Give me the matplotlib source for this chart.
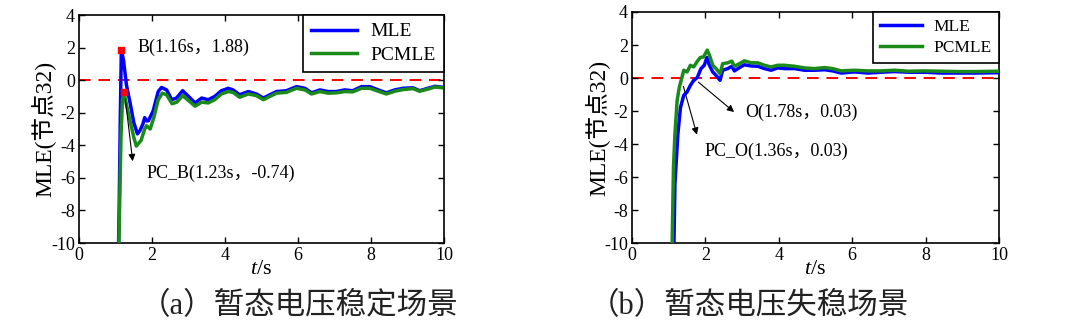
import matplotlib
matplotlib.use("Agg")
import matplotlib.pyplot as plt

# ---------------- data ----------------
# (a) transient voltage stable scenario
t_a_mle = [1.08, 1.10, 1.13, 1.16, 1.22, 1.30, 1.40, 1.50, 1.60, 1.67, 1.75, 1.80, 1.85, 1.90, 2.03, 2.17, 2.26,
           2.40, 2.54, 2.67, 2.84, 3.00, 3.18, 3.36, 3.54, 3.72, 3.90, 4.09, 4.22, 4.40, 4.64, 4.86,
           5.05, 5.23, 5.41, 5.68, 5.96, 6.19, 6.37, 6.60, 6.82, 7.05, 7.28, 7.50, 7.74, 7.97, 8.20,
           8.42, 8.65, 8.88, 9.15, 9.33, 9.56, 9.75, 9.93]
v_a_mle = [-10.5, -8.0, -2.5, 1.88, 1.2, -0.3, -1.4, -2.6, -3.3, -3.1, -2.7, -2.3, -2.5, -2.5, -1.9, -0.7, -0.45,
           -0.6, -1.2, -1.1, -0.65, -1.0, -1.4, -1.1, -1.2, -1.0, -0.65, -0.5, -0.6, -0.9, -0.7, -0.85,
           -1.1, -0.9, -0.7, -0.65, -0.4, -0.5, -0.78, -0.6, -0.7, -0.7, -0.6, -0.65, -0.4, -0.4, -0.6,
           -0.78, -0.6, -0.5, -0.47, -0.65, -0.5, -0.38, -0.43]
t_a_pc = [1.09, 1.11, 1.15, 1.19, 1.23, 1.30, 1.40, 1.50, 1.57, 1.70, 1.80, 1.85, 1.95, 2.05, 2.17, 2.28,
          2.40, 2.55, 2.68, 2.84, 3.00, 3.18, 3.36, 3.54, 3.72, 3.90, 4.09, 4.22, 4.40, 4.64, 4.86,
          5.05, 5.23, 5.41, 5.68, 5.96, 6.19, 6.37, 6.60, 6.82, 7.05, 7.28, 7.50, 7.74, 7.97, 8.20,
          8.42, 8.65, 8.88, 9.15, 9.33, 9.56, 9.75, 9.93]
v_a_pc = [-10.5, -8.0, -3.5, -1.2, -0.74, -1.5, -2.5, -3.5, -4.05, -3.7, -3.0, -2.8, -3.0, -2.3, -1.2, -0.8,
          -0.9, -1.45, -1.35, -0.95, -1.25, -1.6, -1.35, -1.4, -1.2, -0.85, -0.7, -0.75, -1.05, -0.85, -0.95,
          -1.2, -1.0, -0.8, -0.75, -0.5, -0.6, -0.85, -0.7, -0.8, -0.78, -0.7, -0.72, -0.5, -0.5, -0.68,
          -0.85, -0.68, -0.58, -0.52, -0.68, -0.55, -0.42, -0.46]

# (b) transient voltage unstable scenario
t_b_mle = [1.14, 1.17, 1.25, 1.32, 1.41, 1.50, 1.59, 1.68, 1.78, 1.88, 1.97, 2.04, 2.11, 2.20, 2.29, 2.40,
           2.47, 2.61, 2.72, 2.79, 2.93, 3.06, 3.25, 3.43, 3.61, 3.79, 3.97, 4.15, 4.43, 4.70, 4.97,
           5.25, 5.47, 5.70, 6.06, 6.43, 6.79, 7.15, 7.52, 7.97, 8.43, 8.88, 9.34, 9.97]
v_b_mle = [-10.5, -6.4, -3.4, -1.8, -1.05, -0.85, -0.45, -0.15, 0.03, 0.57, 0.77, 1.24, 0.77, 0.37, 0.16, -0.14,
           0.47, 0.57, 0.71, 0.43, 0.63, 0.80, 0.73, 0.71, 0.57, 0.47, 0.61, 0.57, 0.57, 0.47, 0.47,
           0.50, 0.43, 0.30, 0.37, 0.30, 0.35, 0.39, 0.35, 0.35, 0.30, 0.30, 0.30, 0.32]
t_b_pc = [1.09, 1.13, 1.17, 1.23, 1.29, 1.36, 1.41, 1.50, 1.59, 1.68, 1.77, 1.86, 1.95, 2.05, 2.11, 2.20,
          2.29, 2.40, 2.47, 2.61, 2.72, 2.79, 2.93, 3.06, 3.25, 3.43, 3.61, 3.79, 3.97, 4.15, 4.43,
          4.70, 4.97, 5.25, 5.47, 5.70, 6.06, 6.43, 6.79, 7.15, 7.52, 7.97, 8.43, 8.88, 9.34, 9.97]
v_b_pc = [-10.5, -5.4, -3.4, -1.36, -0.55, 0.03, 0.47, 0.37, 0.77, 0.67, 0.98, 1.24, 1.28, 1.69, 1.39, 0.77,
          0.57, 0.26, 0.87, 0.92, 1.02, 0.71, 0.87, 1.04, 0.92, 0.92, 0.77, 0.67, 0.77, 0.77, 0.71,
          0.61, 0.57, 0.63, 0.57, 0.43, 0.47, 0.43, 0.43, 0.47, 0.41, 0.43, 0.41, 0.39, 0.39, 0.41]

x_ticks = [0, 2, 4, 6, 8, 10]
y_ticks = [4, 2, 0, -2, -4, -6, -8, -10]
series_names = ["MLE", "PCMLE"]
ylabel_text = "MLE(节点32)"
captions = ["（a）暂态电压稳定场景", "（b）暂态电压失稳场景"]

# key points
B_pt = (1.16, 1.88)
PCB_pt = (1.23, -0.74)
B_label = "B(1.16s，1.88)"
PCB_label = "PC_B(1.23s，-0.74)"
O_label = "O(1.78s，0.03)"
PCO_label = "PC_O(1.36s，0.03)"

# ---------------- style ----------------
SERIF = ["Liberation Serif", "Noto Sans CJK SC"]
plt.rcParams["font.family"] = SERIF
plt.rcParams["axes.unicode_minus"] = False
plt.rcParams["mathtext.fontset"] = "custom"
plt.rcParams["mathtext.it"] = "Liberation Serif:italic"
plt.rcParams["mathtext.rm"] = "Liberation Serif"

BLUE = "#0000ff"
GREEN = "#1a8a1a"

fig = plt.figure(figsize=(10.8, 3.27), dpi=100)
W, H = 1080, 327
axA = fig.add_axes([79 / W, 1 - 243 / H, 365 / W, 228 / H])
axB = fig.add_axes([632 / W, 1 - 243 / H, 367 / W, 231 / H])


def style_axes(ax, ylab_x, leg_fs):
    ax.set_xlim(0, 10)
    ax.set_ylim(-10, 4)
    ax.set_xticks(x_ticks)
    ax.set_yticks(y_ticks)
    ax.tick_params(direction="in", length=4, width=1, top=True, right=True,
                   labelsize=13, pad=3)
    for s in ax.spines.values():
        s.set_linewidth(1.2)
        s.set_color("black")
    ax.axhline(0, color="red", lw=1.4, ls=(0, (6, 4)), zorder=1)
    ax.set_ylabel(ylabel_text, fontsize=17)
    ax.yaxis.set_label_coords(ylab_x, 0.5)
    ax.set_xlabel("$t$/s", fontsize=16, labelpad=-3)
    leg = ax.legend(loc="upper right", borderaxespad=0, fancybox=False, framealpha=1,
                    edgecolor="black", fontsize=leg_fs, handlelength=2.4, handletextpad=0.7,
                    borderpad=0.4, labelspacing=0.3)
    leg.get_frame().set_linewidth(1.2)


arrow_kw = dict(arrowstyle="-|>", color="black", lw=0.8, mutation_scale=10)

# (a)
axA.plot(t_a_mle, v_a_mle, color=BLUE, lw=2.5, label=series_names[0], zorder=3)
axA.plot(t_a_pc, v_a_pc, color=GREEN, lw=2.5, label=series_names[1], zorder=4)
axA.plot([B_pt[0]], [B_pt[1]], "s", color="red", ms=5, zorder=5)
axA.plot([PCB_pt[0]], [PCB_pt[1]], "s", color="red", ms=5, zorder=5)
axA.text(1.61, 2.0, B_label, fontsize=13, va="center", ha="left")
axA.annotate("", xy=(1.48, -5.15), xytext=(1.26, -1.0), arrowprops=arrow_kw, zorder=6)
axA.text(1.84, -5.75, PCB_label, fontsize=13, va="center", ha="left")
style_axes(axA, -0.066, 14)

# (b)
axB.plot(t_b_mle, v_b_mle, color=BLUE, lw=2.5, label=series_names[0], zorder=3)
axB.plot(t_b_pc, v_b_pc, color=GREEN, lw=2.5, label=series_names[1], zorder=4)
axB.annotate("", xy=(2.84, -2.17), xytext=(1.75, -0.14), arrowprops=arrow_kw, zorder=6)
axB.text(3.08, -2.1, O_label, fontsize=13, va="center", ha="left")
axB.annotate("", xy=(1.79, -3.6), xytext=(1.38, -0.35), arrowprops=arrow_kw, zorder=6)
axB.text(1.98, -4.45, PCO_label, fontsize=13, va="center", ha="left")
style_axes(axB, -0.062, 12.5)

# captions
fig.text(140 / W, 1 - 307 / H, captions[0], fontsize=22, va="center", ha="left",
         color="#222222", fontweight="light")
fig.text(589 / W, 1 - 307 / H, captions[1], fontsize=22, va="center", ha="left",
         color="#222222", fontweight="light")

fig.savefig("out.png", dpi=100)
